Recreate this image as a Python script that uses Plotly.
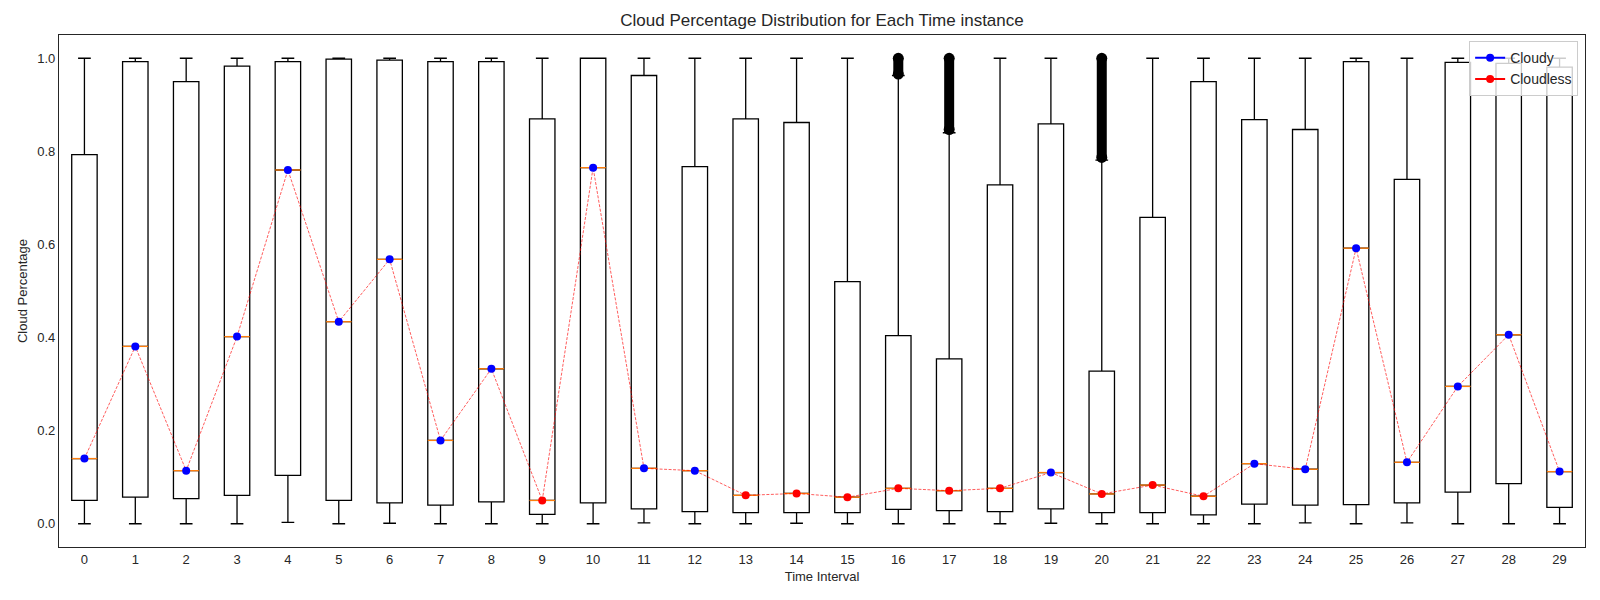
import plotly.graph_objects as go

# time intervals 0..29
intervals = list(range(30))

# box statistics
q1 = [0.050, 0.057, 0.054, 0.061, 0.104, 0.050, 0.045, 0.040, 0.047, 0.020,
      0.045, 0.032, 0.026, 0.024, 0.024, 0.024, 0.031, 0.028, 0.026, 0.032,
      0.024, 0.024, 0.019, 0.042, 0.040, 0.041, 0.045, 0.068, 0.086, 0.035]
medians = [0.140, 0.381, 0.114, 0.402, 0.760, 0.434, 0.568, 0.179, 0.333, 0.050,
           0.765, 0.119, 0.114, 0.061, 0.065, 0.057, 0.076, 0.071, 0.076, 0.110,
           0.064, 0.083, 0.059, 0.129, 0.117, 0.592, 0.132, 0.295, 0.406, 0.112]
q3 = [0.793, 0.993, 0.950, 0.983, 0.993, 0.998, 0.996, 0.993, 0.993, 0.870,
      1.000, 0.963, 0.767, 0.870, 0.862, 0.520, 0.404, 0.354, 0.728, 0.859,
      0.328, 0.658, 0.950, 0.868, 0.847, 0.993, 0.740, 0.991, 0.989, 0.981]
whisker_low = [0.0, 0.0, 0.0, 0.0, 0.003, 0.0, 0.001, 0.0, 0.0, 0.0,
               0.0, 0.002, 0.0, 0.0, 0.001, 0.0, 0.0, 0.0, 0.0, 0.001,
               0.0, 0.0, 0.0, 0.0, 0.002, 0.0, 0.002, 0.0, 0.0, 0.0]
whisker_high = [1.0, 1.0, 1.0, 1.0, 1.0, 1.0, 1.0, 1.0, 1.0, 1.0,
                1.0, 1.0, 1.0, 1.0, 1.0, 1.0, 0.963, 0.840, 1.0, 1.0,
                0.781, 1.0, 1.0, 1.0, 1.0, 1.0, 1.0, 1.0, 1.0, 1.0]

# dense outlier runs (from/to)
outlier_pos = [16, 17, 20]
outlier_low = [0.966, 0.847, 0.787]
outlier_high = [1.0, 1.0, 1.0]

threshold = 0.1
box_width = 0.5
ink = "#262626"

fig = go.Figure()

# boxes
fig.add_trace(go.Box(
    x=intervals, q1=q1, median=medians, q3=q3,
    lowerfence=whisker_low, upperfence=whisker_high,
    width=box_width, whiskerwidth=0.5,
    line=dict(color="black", width=1.3),
    fillcolor="rgba(255,255,255,0)",
    boxpoints=False, showlegend=False, hoverinfo="skip"
))

# outliers drawn as a heavy run of black dots
ox, oy = [], []
for p, lo, hi in zip(outlier_pos, outlier_low, outlier_high):
    ox += [p, p, None]
    oy += [lo, hi, None]
fig.add_trace(go.Scatter(
    x=ox, y=oy, mode="lines+markers",
    line=dict(color="black", width=10),
    marker=dict(color="black", size=11),
    showlegend=False, hoverinfo="skip"
))

# orange median lines
mx, my = [], []
for i, m in zip(intervals, medians):
    mx += [i - box_width / 2, i + box_width / 2, None]
    my += [m, m, None]
fig.add_trace(go.Scatter(
    x=mx, y=my, mode="lines",
    line=dict(color="#ff7f0e", width=1.3),
    showlegend=False, hoverinfo="skip"
))

# dashed connector through medians
fig.add_trace(go.Scatter(
    x=intervals, y=medians, mode="lines",
    line=dict(color="rgba(255,0,0,0.8)", width=0.8, dash="3px,1.5px"),
    showlegend=False, hoverinfo="skip"
))

cloudy = [(i, m) for i, m in zip(intervals, medians) if m > threshold]
cloudless = [(i, m) for i, m in zip(intervals, medians) if m <= threshold]

fig.add_trace(go.Scatter(
    x=[c[0] for c in cloudy], y=[c[1] for c in cloudy], mode="markers",
    marker=dict(color="blue", size=8), showlegend=False
))
fig.add_trace(go.Scatter(
    x=[c[0] for c in cloudless], y=[c[1] for c in cloudless], mode="markers",
    marker=dict(color="red", size=8), showlegend=False
))

# legend entries
fig.add_trace(go.Scatter(
    x=[None], y=[None], mode="lines+markers", name="Cloudy",
    line=dict(color="blue", width=2), marker=dict(color="blue", size=8)
))
fig.add_trace(go.Scatter(
    x=[None], y=[None], mode="lines+markers", name="Cloudless",
    line=dict(color="red", width=2), marker=dict(color="red", size=8)
))

fig.update_layout(
    width=1600, height=600,
    template="simple_white",
    plot_bgcolor="white", paper_bgcolor="white",
    font=dict(family="Liberation Sans, Arial, sans-serif", size=13, color=ink),
    margin=dict(l=59, r=15, t=35, b=53),
    title=dict(text="Cloud Percentage Distribution for Each Time instance",
               x=0.5, xref="paper", xanchor="center",
               y=1 - 20 / 600, yref="container", yanchor="middle",
               font=dict(size=17, color=ink)),
    legend=dict(x=0.9955, y=0.988, xanchor="right", yanchor="top",
                bgcolor="rgba(255,255,255,0.8)", bordercolor="#cccccc",
                borderwidth=1, font=dict(size=14), itemwidth=30,
                tracegroupgap=0),
    showlegend=True,
)

fig.update_xaxes(
    range=[-0.5, 29.5], tickmode="array", tickvals=intervals,
    ticktext=[str(i) for i in intervals],
    showline=True, mirror=True, linecolor=ink, linewidth=1.3,
    ticks="", showgrid=False, zeroline=False, automargin=False,
    title=dict(text="Time Interval", font=dict(size=13), standoff=6),
    tickfont=dict(size=13)
)
fig.update_yaxes(
    range=[-0.05, 1.05], tickmode="array",
    tickvals=[0.0, 0.2, 0.4, 0.6, 0.8, 1.0], tickformat=".1f",
    showline=True, mirror=True, linecolor=ink, linewidth=1.3,
    ticks="", showgrid=False, zeroline=False, automargin=False,
    title=dict(text="Cloud Percentage", font=dict(size=13), standoff=6),
    tickfont=dict(size=13)
)

# drop the browser's default body margin so the figure sits at (0, 0)
fig.write_html("out.html", config={"displayModeBar": False},
               post_script="document.body.style.margin='0';")
